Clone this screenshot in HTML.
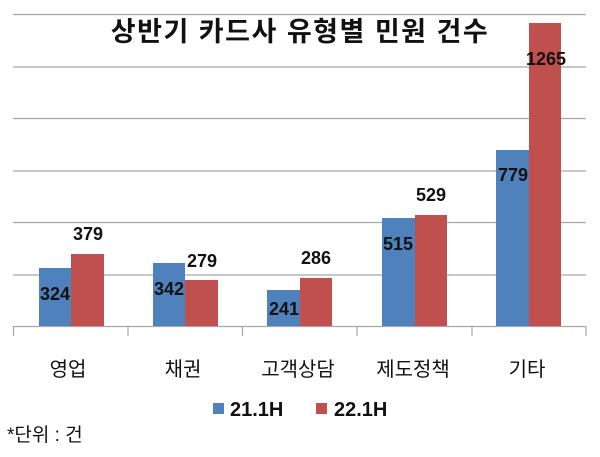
<!DOCTYPE html>
<html><head><meta charset="utf-8"><style>
body{margin:0;background:#fff;}
svg text{font-family:"Liberation Sans","Noto Sans CJK KR",sans-serif;}
</style></head><body>
<svg width="600" height="452" viewBox="0 0 600 452" xmlns="http://www.w3.org/2000/svg">
<rect width="600" height="452" fill="#fff"/>
<g stroke="#a6a6a6" stroke-width="1.2">
<line x1="13" y1="14.5" x2="586" y2="14.5"/>
<line x1="13" y1="67" x2="586" y2="67"/>
<line x1="13" y1="118.5" x2="586" y2="118.5"/>
<line x1="13" y1="171" x2="586" y2="171"/>
<line x1="13" y1="222.5" x2="586" y2="222.5"/>
<line x1="13" y1="275" x2="586" y2="275"/>
<line x1="13" y1="326.5" x2="586" y2="326.5"/>
<line x1="13.5" y1="326" x2="13.5" y2="336"/>
<line x1="128" y1="326" x2="128" y2="336"/>
<line x1="242.5" y1="326" x2="242.5" y2="336"/>
<line x1="357" y1="326" x2="357" y2="336"/>
<line x1="472" y1="326" x2="472" y2="336"/>
<line x1="586" y1="326" x2="586" y2="336"/>
</g>
<text x="300" y="41" text-anchor="middle" font-size="27" font-weight="bold" fill="#111" letter-spacing="1.5">상반기 카드사 유형별 민원 건수</text>
<g>
<rect x="39" y="268" width="32" height="58" fill="#4f81bd"/>
<rect x="71" y="254" width="33" height="72" fill="#c0504d"/>
<rect x="153" y="263" width="32" height="63" fill="#4f81bd"/>
<rect x="185" y="280" width="33" height="46" fill="#c0504d"/>
<rect x="267" y="290" width="33" height="36" fill="#4f81bd"/>
<rect x="300" y="278" width="32" height="48" fill="#c0504d"/>
<rect x="382" y="218" width="33" height="108" fill="#4f81bd"/>
<rect x="415" y="215" width="32" height="111" fill="#c0504d"/>
<rect x="496" y="150" width="33" height="176" fill="#4f81bd"/>
<rect x="529" y="23" width="32" height="303" fill="#c0504d"/>
</g>
<g font-size="18" font-weight="bold" fill="#111" text-anchor="middle">
<text x="55" y="300">324</text>
<text x="88" y="240">379</text>
<text x="169" y="295">342</text>
<text x="202" y="267">279</text>
<text x="284" y="315">241</text>
<text x="316" y="264">286</text>
<text x="398" y="250">515</text>
<text x="431" y="201">529</text>
<text x="513" y="181">779</text>
<text x="546" y="65">1265</text>
</g>
<g font-size="20" fill="#111" text-anchor="middle">
<text x="68" y="376">영업</text>
<text x="183" y="376">채권</text>
<text x="298" y="376">고객상담</text>
<text x="413" y="376">제도정책</text>
<text x="527" y="376">기타</text>
</g>
<rect x="213" y="403" width="11" height="11" fill="#4f81bd"/>
<text x="230" y="416" font-size="20" font-weight="bold" fill="#111">21.1H</text>
<rect x="316" y="403" width="11" height="11" fill="#c0504d"/>
<text x="334" y="416" font-size="20" font-weight="bold" fill="#111">22.1H</text>
<text x="7" y="441" font-size="19" fill="#111">*단위 : 건</text>
</svg>
</body></html>
